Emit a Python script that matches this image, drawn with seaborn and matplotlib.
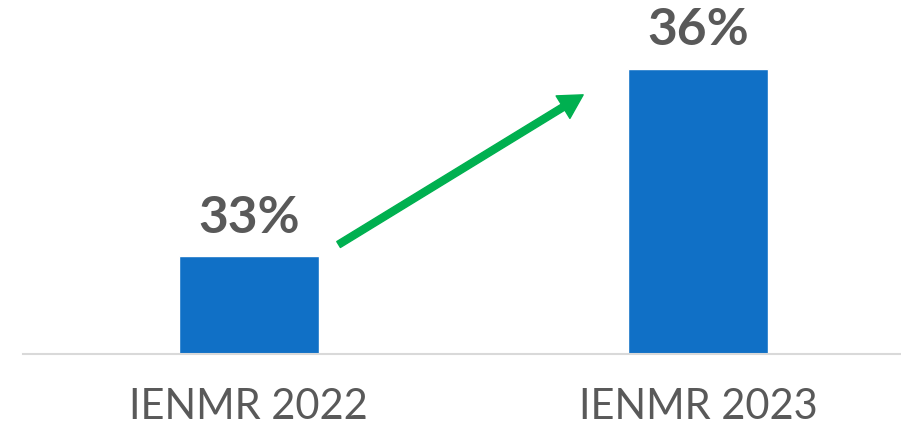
import matplotlib
matplotlib.use("Agg")
import matplotlib.pyplot as plt
import seaborn as sns
import pandas as pd

categories = ["IENMR 2022", "IENMR 2023"]
values = [33, 36]
labels = ["33%", "36%"]

sns.set_theme(style="white")
plt.rcParams['font.family'] = ['Lato', 'DejaVu Sans']

df = pd.DataFrame({"cat": categories, "val": values})

fig = plt.figure(figsize=(9.01, 4.27), dpi=100)
ax = fig.add_axes([23/901, 72.5/427, 1 - 23/901, 1 - 72.5/427])

sns.barplot(data=df, x="cat", y="val", order=categories, color="#1070C6",
            saturation=1, width=0.311, ax=ax)

ax.set_xlim(-0.502, 1.451)
ax.set_ylim(31.45, 37.11)

for i, (v, lab) in enumerate(zip(values, labels)):
    ax.annotate(lab, xy=(i, v), xytext=(0, 11), textcoords="offset points",
                ha="center", va="bottom", fontsize=37, fontweight="bold",
                color="#595959")

# growth arrow between bars
ax.annotate("", xy=(1 - 0.256, values[1] - 0.42), xytext=(0.2, values[0] + 0.19),
            arrowprops=dict(width=5, headwidth=19, headlength=17,
                            color="#00B050", shrink=0))

for s in ["top", "left", "right"]:
    ax.spines[s].set_visible(False)
ax.spines["bottom"].set_color("#D9D9D9")
ax.spines["bottom"].set_linewidth(1.5)
ax.set_yticks([])
ax.set_xlabel("")
ax.set_ylabel("")
ax.tick_params(axis="x", length=0, pad=24, labelsize=30, labelcolor="#595959")

fig.savefig("out.png", dpi=100)
